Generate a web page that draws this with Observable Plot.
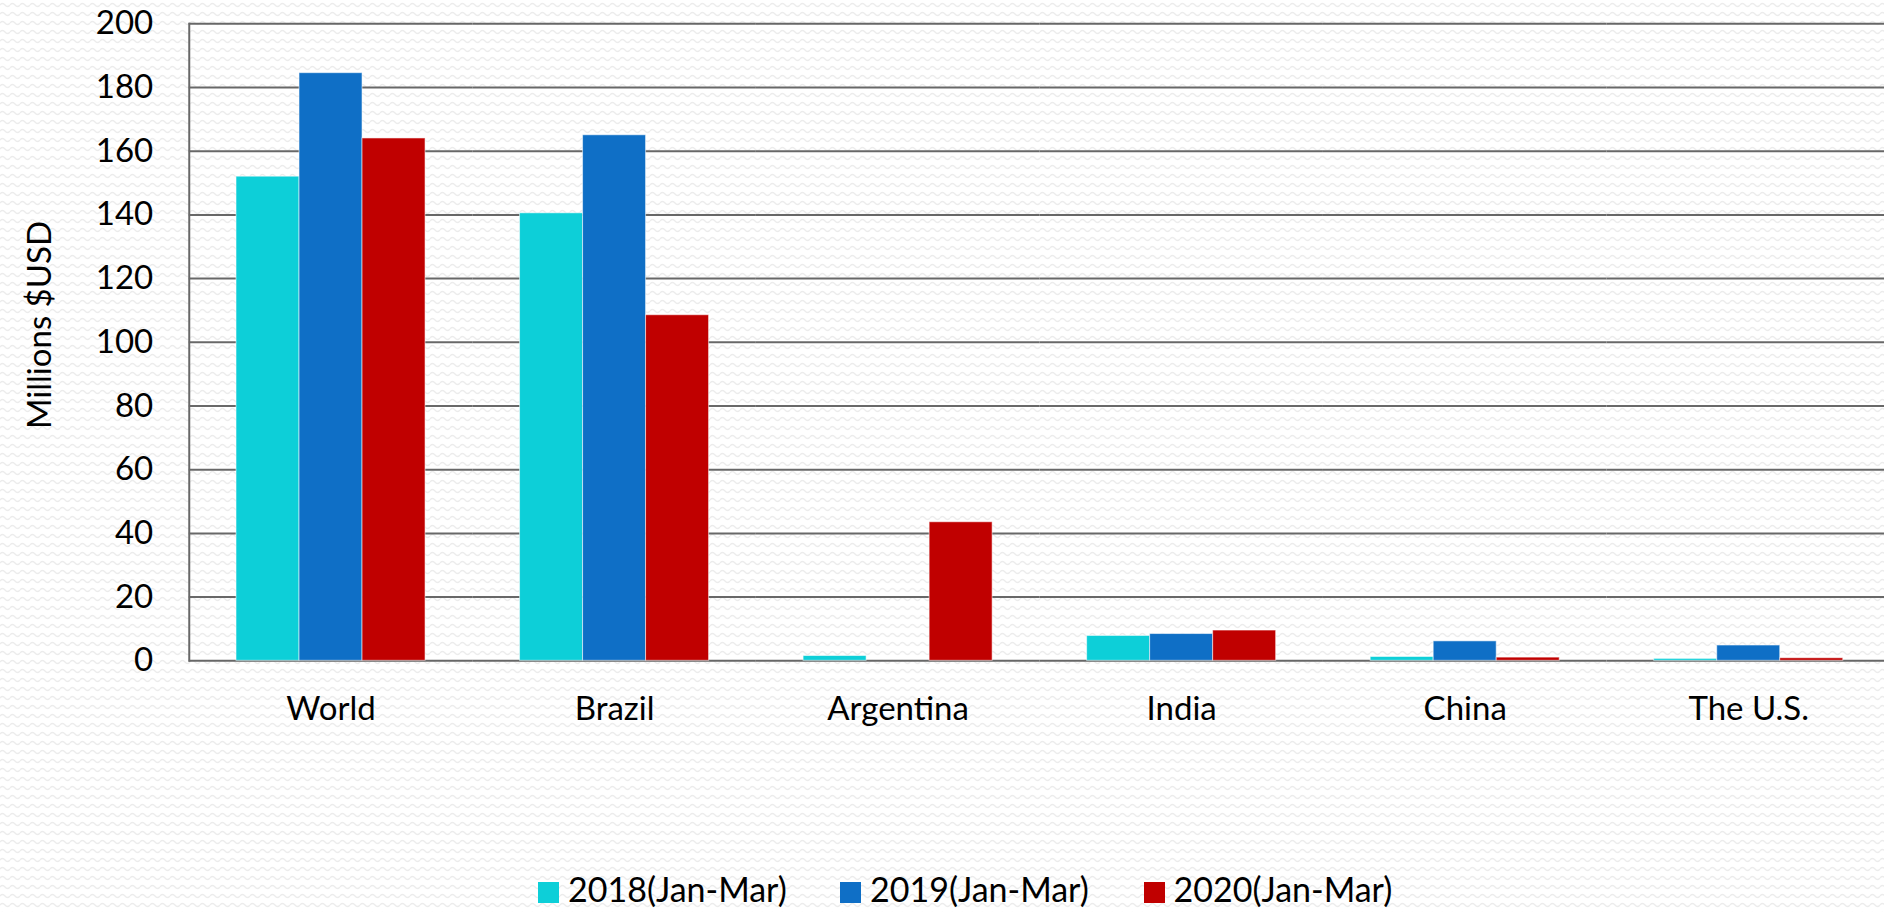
<!DOCTYPE html>
<html>
<head>
<meta charset="utf-8">
<script src="https://cdn.jsdelivr.net/npm/d3@7"></script>
<script src="https://cdn.jsdelivr.net/npm/@observablehq/plot@0.6"></script>
<style>
  html, body { margin: 0; padding: 0; overflow: hidden; }
  body {
    width: 1884px; height: 912px;
    background-color: #ffffff;
    background-image: url("data:image/svg+xml;utf8,<svg xmlns='http://www.w3.org/2000/svg' width='10' height='9'><path d='M0 5 Q2.5 2 5 5 T10 5' fill='none' stroke='%23ececec' stroke-width='1.3'/></svg>");
    font-family: Lato, "Open Sans", sans-serif;
  }
  #wrap { position: relative; width: 1884px; height: 912px; overflow: hidden; }
  #chart { position: absolute; left: 0; top: 0; }
  #ylabel {
    position: absolute; left: 38px; top: 325px;
    transform: translate(-50%, -50%) rotate(-90deg);
    white-space: nowrap; font-size: 33px; line-height: 33px; color: #000;
  }
  .leg { position: absolute; top: 874px; height: 30px; display: flex; align-items: center; font-size: 34px; line-height: 30px; color: #000; white-space: nowrap; }
  .leg span.sw { display: inline-block; width: 21px; height: 21px; margin-right: 9px; position: relative; top: 3px; }
</style>
</head>
<body>
<div id="wrap">
  <div id="chart"></div>
  <div id="ylabel">Millions $USD</div>
  <div id="legend"></div>
</div>
<script>
const countries = ["World", "Brazil", "Argentina", "India", "China", "The U.S."];
const years = ["2018(Jan-Mar)", "2019(Jan-Mar)", "2020(Jan-Mar)"];
const v2018 = [152, 140.5, 1.5, 7.8, 1.2, 0.6];
const v2019 = [184.5, 165, 0, 8.4, 6.1, 4.8];
const v2020 = [164, 108.5, 43.5, 9.5, 1.0, 0.8];
const yTicks = [0, 20, 40, 60, 80, 100, 120, 140, 160, 180, 200];
const colors = ["#0dcfd8", "#0f6fc6", "#c00000"];

const series = [v2018, v2019, v2020];
const rows = [];
countries.forEach((c, i) => {
  years.forEach((yr, j) => rows.push({country: c, year: yr, value: series[j][i]}));
});

const plot = Plot.plot({
  width: 1890,
  height: 760,
  marginTop: 23.3,
  marginBottom: 99.7,
  marginLeft: 188.75,
  marginRight: 0,
  style: {fontFamily: "Lato, 'Open Sans', sans-serif", fontSize: "33px", color: "#000", background: "transparent", maxWidth: "none", overflow: "visible"},
  fx: {domain: countries, padding: 0, round: false, axis: null},
  x: {domain: years, paddingInner: 0, paddingOuter: 0.75, round: false, axis: null},
  y: {domain: [0, 200], axis: null},
  color: {domain: years, range: colors},
  marks: [
    Plot.ruleY(yTicks, {y: d => d, stroke: "#686868", strokeWidth: 2}),
    Plot.barY(rows, {fx: "country", x: "year", y: "value", fill: "year", stroke: "#ffffff", strokeOpacity: 0.55, strokeWidth: 1}),
    Plot.frame({anchor: "left", facetAnchor: "left", stroke: "#686868", strokeWidth: 2}),
    Plot.axisY(yTicks, {anchor: "left", tickSize: 0, tickPadding: 36, label: null, fontSize: 33}),
    Plot.axisFx({anchor: "bottom", tickSize: 0, tickPadding: 36, label: null, fontSize: 33})
  ]
});
document.getElementById("chart").appendChild(plot);

const legend = document.getElementById("legend");
const legLeft = [538, 840, 1143.5];
years.forEach((yr, j) => {
  const d = document.createElement("div");
  d.className = "leg";
  d.style.left = legLeft[j] + "px";
  const sw = document.createElement("span");
  sw.className = "sw";
  sw.style.background = colors[j];
  d.appendChild(sw);
  d.appendChild(document.createTextNode(yr));
  legend.appendChild(d);
});
</script>
</body>
</html>
